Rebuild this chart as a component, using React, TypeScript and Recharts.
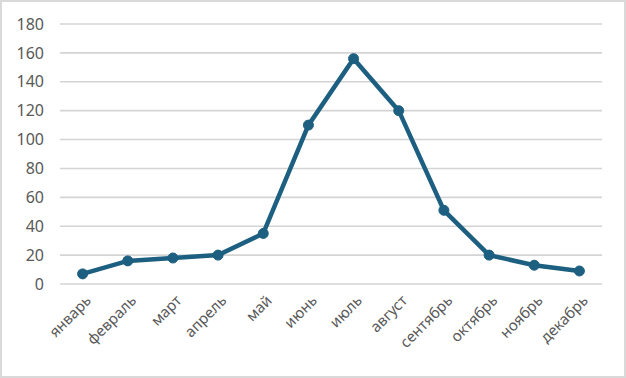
import { LineChart, Line, XAxis, YAxis, CartesianGrid } from 'recharts'

const months = [
  'январь', 'февраль', 'март', 'апрель', 'май', 'июнь',
  'июль', 'август', 'сентябрь', 'октябрь', 'ноябрь', 'декабрь',
]
const values = [7, 16, 18, 20, 35, 110, 156, 120, 51, 20, 13, 9]
const yTicks = [0, 20, 40, 60, 80, 100, 120, 140, 160, 180]

const data = months.map((m, i) => ({ month: m, value: values[i] }))

const FONT = '"Noto Sans", "Open Sans", sans-serif'
const LINE = '#1c5f80'

const renderMonthTick = (props: any) => {
  const { x, y, payload } = props
  return (
    <g
      style={{
        transform: `translate(${x + 6}px, ${y + 6}px) rotate(-45deg)`,
        transformOrigin: '0 0',
      }}
    >
      <text x={0} y={0} dy={5} textAnchor="end" fill="#595959" fontSize={15} fontFamily={FONT}>
        {payload.value}
      </text>
    </g>
  )
}

export default function App() {
  return (
    <div
      style={{
        position: 'absolute',
        left: 0,
        top: 0,
        width: 626,
        height: 378,
        boxSizing: 'border-box',
        border: '2px solid #d9d9d9',
        background: '#fff',
      }}
    >
      <LineChart
        width={622}
        height={374}
        data={data}
        margin={{ top: 22, right: 22, left: 0, bottom: 10 }}
      >
        <CartesianGrid vertical={false} stroke="#d4d4d4" strokeWidth={1.6} />
        <XAxis
          dataKey="month"
          height={82}
          padding={{ left: 22.6, right: 22.6 }}
          tickLine={false}
          axisLine={false}
          interval={0}
          tick={renderMonthTick}
        />
        <YAxis
          width={58}
          domain={[0, 180]}
          ticks={yTicks}
          tickLine={false}
          axisLine={false}
          tickMargin={10}
          tick={{ fill: '#595959', fontSize: 16, fontFamily: FONT }}
        />
        <Line
          dataKey="value"
          stroke={LINE}
          strokeWidth={4.5}
          dot={{ r: 5, fill: LINE, stroke: LINE, strokeWidth: 1 }}
          activeDot={false}
          isAnimationActive={false}
        />
      </LineChart>
    </div>
  )
}
